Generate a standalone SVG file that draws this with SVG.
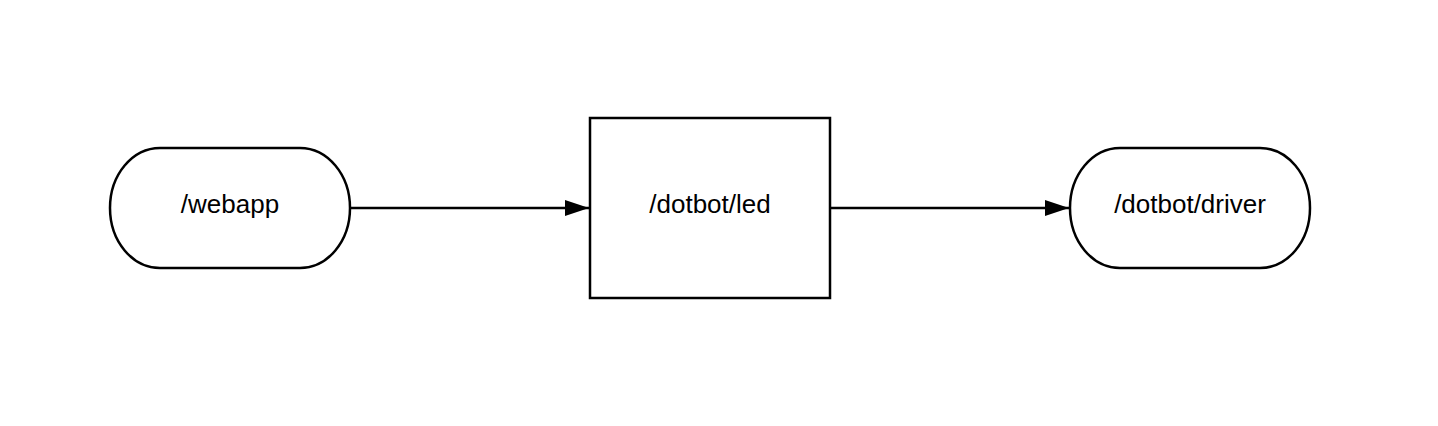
<svg xmlns="http://www.w3.org/2000/svg" width="1438" height="426" viewBox="0 0 1438 426">
<style>
.node{fill:#fff;stroke:#000;stroke-width:2.5}
.lbl{font-family:"Liberation Sans",Arial,sans-serif;font-size:26px;fill:#000;text-anchor:middle}
.edge{stroke:#000;stroke-width:2.5;fill:none}
</style>
<defs>
<marker id="arr" markerUnits="userSpaceOnUse" markerWidth="26" markerHeight="20" refX="24" refY="9" orient="auto">
<path d="M0,1 L24,9 L0,17 Z" fill="#000"/>
</marker>
</defs>
<rect width="1438" height="426" fill="#fff"/>
<g id="webapp">
<rect class="node" x="110" y="148" width="240" height="120" rx="50" ry="60"/>
<text class="lbl" x="230" y="213">/webapp</text>
</g>
<g id="led">
<rect class="node" x="590" y="118" width="240" height="180"/>
<text class="lbl" x="710" y="213">/dotbot/led</text>
</g>
<g id="driver">
<rect class="node" x="1070" y="148" width="240" height="120" rx="50" ry="60"/>
<text class="lbl" x="1190" y="213">/dotbot/driver</text>
</g>
<g id="connectors">
<path class="edge" d="M351,208 L589,208" marker-end="url(#arr)"/>
<path class="edge" d="M831,208 L1069,208" marker-end="url(#arr)"/>
</g>
</svg>
